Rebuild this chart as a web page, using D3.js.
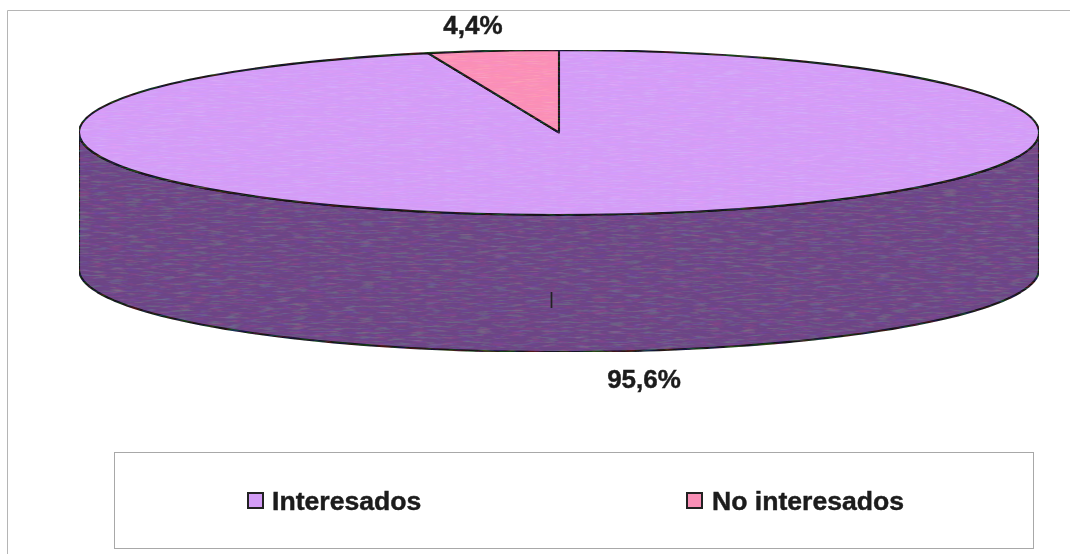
<!DOCTYPE html>
<html><head><meta charset="utf-8">
<script src="https://cdn.jsdelivr.net/npm/d3@7/dist/d3.min.js"></script>
<style>html,body{margin:0;padding:0;background:#fff}svg{display:block;filter:blur(0.45px)}text{font-family:"Liberation Sans",Arial,sans-serif;font-weight:bold;fill:#1c1c1c;stroke:#1c1c1c;stroke-width:.45px}</style>
</head><body><svg id="c" width="1070" height="554"></svg>
<script>
const categories = ["Interesados", "No interesados"];
const values = [95.6, 4.4];
const valueLabels = ["95,6%", "4,4%"];
const topColors = ["#d39cf6", "#f98fb6"];
const wallColor = "#6c4585";

const W = 1070, H = 554;
const cx = 559, cy = 132.5, rx = 480, ry = 82.5, depth = 137;
const svg = d3.select("#c");

const defs = svg.append("defs");
const f = defs.append("filter").attr("id","grain").attr("x",0).attr("y",0).attr("width","100%").attr("height","100%");
f.append("feTurbulence").attr("type","fractalNoise").attr("baseFrequency","0.06 0.45").attr("numOctaves",3).attr("seed",4).attr("result","n");
f.append("feColorMatrix").attr("in","n").attr("type","matrix")
 .attr("values","0.22 0 0 0 -0.11  0 0.22 0 0 -0.11  0 0 0.22 0 -0.11  0 0 0 0 1").attr("result","m");
f.append("feComposite").attr("in","SourceGraphic").attr("in2","m").attr("operator","arithmetic").attr("k1",0).attr("k2",1).attr("k3",1).attr("k4",0).attr("result","o");
f.append("feComposite").attr("in","o").attr("in2","SourceGraphic").attr("operator","in");

// outer frame: only the top and left edges are in view
svg.append("line").attr("x1",7.5).attr("x2",W).attr("y1",10.5).attr("y2",10.5).attr("stroke","#b5b5b5");
svg.append("line").attr("x1",7.5).attr("x2",7.5).attr("y1",10.5).attr("y2",H).attr("stroke","#b5b5b5");

// pie layout: the small slice ends at 12 o'clock
const pie = d3.pie().sort(null).value(d => d).startAngle(0).endAngle(2*Math.PI);
const arcs = pie(values);
const px = a => rx * Math.sin(a), py = (a, dz = 0) => -ry * Math.cos(a) + dz;

// cylinder wall, visible front half
const front = d3.range(90, 271, 2).map(d => d * Math.PI / 180);
const wallLine = d3.line().curve(d3.curveLinear);
const wallPts = front.map(a => [px(a), py(a, depth)]).concat(front.slice().reverse().map(a => [px(a), py(a)]));
const g = svg.append("g").attr("transform",`translate(${cx},${cy})`);
g.append("path").attr("d", wallLine(wallPts) + "Z")
  .attr("fill", wallColor).attr("stroke","#141414").attr("stroke-width",2.1).attr("stroke-linejoin","round")
  .attr("filter","url(#grain)");

// top face
const arc = d3.arc().innerRadius(0).outerRadius(rx);
const face = g.append("g").attr("transform",`scale(1,${ry/rx})`);
face.selectAll("path").data(arcs).join("path")
  .attr("d", arc)
  .attr("fill",(d,i) => topColors[i])
  .attr("stroke","#141414").attr("stroke-width",2.1)
  .attr("vector-effect","non-scaling-stroke")
  .attr("stroke-linejoin","round")
  .attr("filter","url(#grain)");

// leader tick
svg.append("line").attr("x1",551.5).attr("x2",551.5).attr("y1",292).attr("y2",308).attr("stroke","#222").attr("stroke-width",1.7);

// value labels
svg.append("text").attr("x",644).attr("y",388).attr("text-anchor","middle").attr("font-size",26).text(valueLabels[0]);
svg.append("text").attr("x",473).attr("y",34).attr("text-anchor","middle").attr("font-size",26).text(valueLabels[1]);

// legend
svg.append("rect").attr("x",114.5).attr("y",452.5).attr("width",919).attr("height",96)
  .attr("fill","#fff").attr("stroke","#a8a8a8").attr("stroke-width",1);
const legendSwatchX = [248, 687], legendTextX = [272, 712];
categories.forEach((c,i) => {
  svg.append("rect").attr("x",legendSwatchX[i]).attr("y",493).attr("width",15).attr("height",15)
    .attr("fill",topColors[i]).attr("stroke","#222").attr("stroke-width",2);
  svg.append("text").attr("x",legendTextX[i]).attr("y",510).attr("font-size",26.6).text(c);
});
</script></body></html>
